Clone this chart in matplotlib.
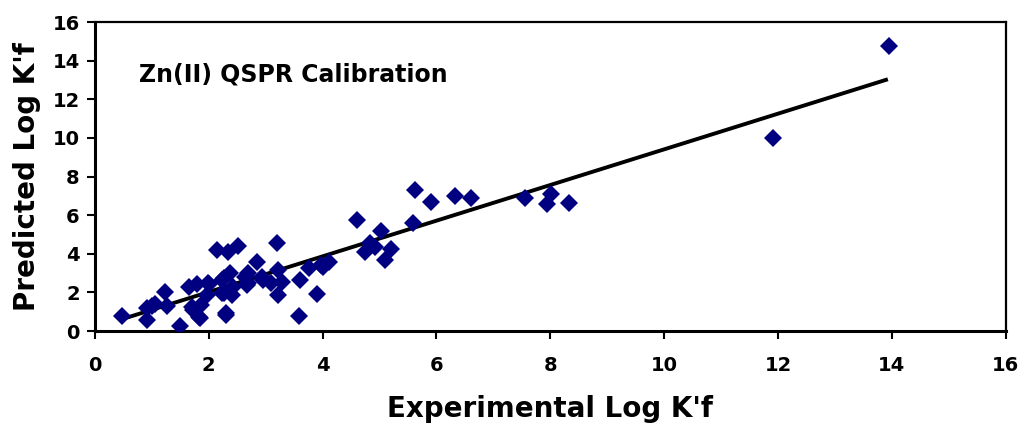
import matplotlib
matplotlib.use("Agg")
import matplotlib.pyplot as plt

plt.rcParams['font.family'] = ['DejaVu Sans']

# Experimental vs. predicted log K'f values for the Zn(II) calibration set
experimental = [
    0.48, 0.91, 0.92, 1.00, 1.05, 1.23, 1.27, 1.50, 1.65, 1.79, 1.70, 1.73,
    1.82, 1.87, 1.97, 2.01, 2.14, 2.23, 2.26, 2.31, 2.34, 2.37, 2.40, 2.52,
    2.64, 2.67, 2.84, 2.96, 3.10, 3.19, 3.22, 3.22, 3.28, 1.99, 2.26, 2.69,
    2.69, 2.93, 2.31, 1.85, 2.43, 2.23, 3.59, 3.61, 3.76, 3.90, 3.98, 4.01,
    4.12, 4.60, 4.75, 4.83, 4.92, 5.03, 5.10, 5.20, 5.58, 5.62, 5.90, 6.33,
    6.60, 7.56, 8.01, 7.94, 8.33, 11.91, 13.95,
]
predicted = [
    0.78, 1.18, 0.57, 1.30, 1.40, 2.04, 1.30, 0.27, 2.26, 2.43, 1.26, 1.09,
    0.74, 1.35, 1.87, 2.43, 4.20, 2.64, 1.95, 0.83, 4.11, 2.99, 1.87, 4.40,
    2.81, 2.38, 3.59, 2.64, 2.47, 4.58, 3.16, 1.87, 2.55, 2.47, 2.73, 2.99,
    2.47, 2.81, 0.92, 0.67, 2.30, 1.95, 0.79, 2.64, 3.25, 1.92, 3.42, 3.33,
    3.56, 5.75, 4.08, 4.54, 4.37, 5.18, 3.68, 4.23, 5.58, 7.30, 6.70, 7.01,
    6.91, 6.88, 7.08, 6.56, 6.61, 10.02, 14.78,
]

# Linear trend line endpoints
trend_x = [0.48, 13.93]
trend_y = [0.62, 13.04]

x_ticks = [0, 2, 4, 6, 8, 10, 12, 14, 16]
y_ticks = [0, 2, 4, 6, 8, 10, 12, 14, 16]

fig = plt.figure(figsize=(10.21, 4.25), dpi=100)
ax = fig.add_axes([0.093, 0.221, 0.892, 0.727])

ax.plot(trend_x, trend_y, color='black', lw=2.8, solid_capstyle='butt', zorder=2)
ax.plot(experimental, predicted, linestyle='none', marker='D', markersize=9,
        color='#000080', markeredgewidth=0, zorder=3)

ax.set_xlim(0, 16)
ax.set_ylim(0, 16)
ax.set_xticks(x_ticks)
ax.set_yticks(y_ticks)
ax.tick_params(direction='out', length=6, width=1.5, labelsize=14)
ax.tick_params(axis='x', pad=12)
ax.tick_params(axis='y', pad=5)
for lbl in ax.get_xticklabels() + ax.get_yticklabels():
    lbl.set_fontweight('bold')

for side in ('left', 'bottom'):
    ax.spines[side].set_linewidth(2.2)
for side in ('top', 'right'):
    ax.spines[side].set_linewidth(1.6)

ax.set_xlabel("Experimental Log K'f", fontsize=20, fontweight='bold', labelpad=14)
ax.set_ylabel("Predicted Log K'f", fontsize=20, fontweight='bold', labelpad=8)

ax.text(0.048, 0.83, "Zn(II) QSPR Calibration", transform=ax.transAxes,
        fontsize=17, fontweight='bold', ha='left', va='center')

fig.savefig('out.png', dpi=100)
